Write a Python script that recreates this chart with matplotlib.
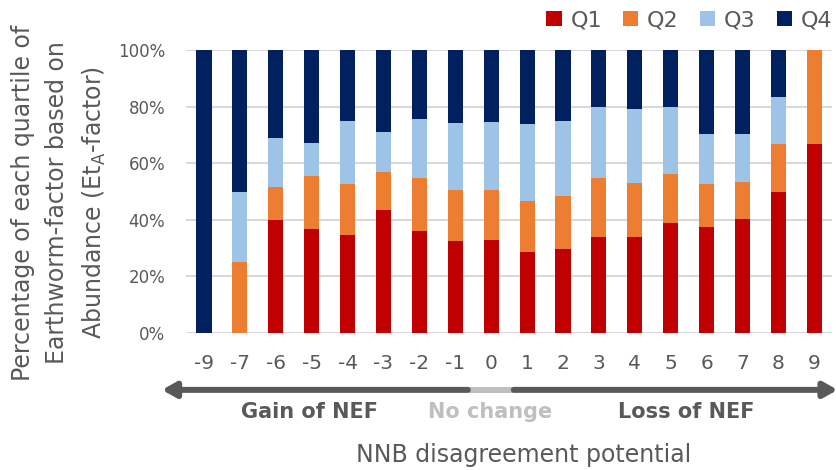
import matplotlib
matplotlib.use('Agg')
import matplotlib.pyplot as plt
import numpy as np

# NNB disagreement potential categories
categories = ['-9', '-7', '-6', '-5', '-4', '-3', '-2', '-1', '0',
              '1', '2', '3', '4', '5', '6', '7', '8', '9']

# share of each quartile (%)
q1 = [0, 0, 40.1, 36.6, 34.8, 43.6, 36.2, 32.4, 32.8,
      28.5, 29.8, 34.1, 34.1, 38.7, 37.3, 40.4, 50.0, 66.7]
q2 = [0, 25.0, 11.5, 18.9, 17.9, 13.4, 18.6, 18.2, 17.8,
      18.2, 18.7, 20.7, 18.8, 17.5, 15.4, 13.0, 16.7, 33.3]
q3 = [0, 25.0, 17.2, 11.8, 22.4, 14.0, 21.0, 23.5, 23.8,
      27.0, 26.6, 25.2, 26.1, 23.8, 17.5, 16.8, 16.7, 0]
q4 = [100, 50.0, 31.2, 32.7, 24.9, 29.0, 24.2, 25.9, 25.6,
      26.3, 24.9, 20.0, 21.0, 20.0, 29.8, 29.8, 16.6, 0]

series = [('Q1', q1, '#C00000'), ('Q2', q2, '#ED7D31'),
          ('Q3', q3, '#9DC3E6'), ('Q4', q4, '#002060')]

grey = '#595959'
light = '#BFBFBF'

fig = plt.figure(figsize=(8.36, 4.70), dpi=100)
ax = fig.add_axes([0.2225, 0.2915, 0.773, 0.602])

x = np.arange(len(categories))
bottom = np.zeros(len(categories))
for name, vals, color in series:
    vals = np.array(vals)
    ax.bar(x, vals, 0.42, bottom=bottom, color=color, label=name, zorder=3)
    bottom += vals

ax.set_xlim(-0.5, len(categories) - 0.5)
ax.set_ylim(0, 100)
ax.set_yticks(np.arange(0, 101, 20))
ax.set_yticklabels(['%d%%' % v for v in range(0, 101, 20)],
                   fontsize=12, color=grey)
ax.set_xticks(x)
ax.set_xticklabels(categories, fontsize=14.5, color=grey)
ax.tick_params(axis='both', length=0)
ax.tick_params(axis='x', pad=15)
ax.tick_params(axis='y', pad=15)
ax.grid(axis='y', color='#D9D9D9', linewidth=1.5, zorder=0)
for s in ax.spines.values():
    s.set_visible(False)

ax.set_ylabel('Percentage of each quartile of\nEarthworm-factor based on\n'
              'Abundance (Et$_{\\mathrm{A}}$-factor)',
              fontsize=17, color=grey, linespacing=1.55)
ax.yaxis.set_label_coords(-0.121, 0.46)

# arrow under the axis
ay = -0.201
tr = ax.get_xaxis_transform()
head = '-|>,head_length=0.8,head_width=0.45'
ax.annotate('', xy=(-1.17, ay), xytext=(7.35, ay), xycoords=tr,
            textcoords=tr, annotation_clip=False,
            arrowprops=dict(arrowstyle=head, color=grey, lw=4.3,
                            shrinkA=0, shrinkB=0))
ax.annotate('', xy=(17.65, ay), xytext=(8.63, ay), xycoords=tr,
            textcoords=tr, annotation_clip=False,
            arrowprops=dict(arrowstyle=head, color=grey, lw=4.3,
                            shrinkA=0, shrinkB=0))
ax.plot([7.35, 8.63], [ay, ay], transform=tr, color=light, lw=4.3,
        clip_on=False, solid_capstyle='butt')

ty = -0.279
ax.text(2.95, ty, 'Gain of NEF', transform=tr, ha='center', va='center',
        fontsize=15, fontweight='bold', color=grey)
ax.text(7.97, ty, 'No change', transform=tr, ha='center', va='center',
        fontsize=15, fontweight='bold', color=light)
ax.text(13.43, ty, 'Loss of NEF', transform=tr, ha='center', va='center',
        fontsize=15, fontweight='bold', color=grey)
ax.text(0.522, -0.43, 'NNB disagreement potential', transform=ax.transAxes,
        ha='center', va='center', fontsize=17, color=grey)

leg = ax.legend(loc='center right', bbox_to_anchor=(1.0, 1.106), ncol=4,
                frameon=False, fontsize=16, handlelength=0.68,
                handleheight=0.68, handletextpad=0.4, columnspacing=0.95,
                borderaxespad=0.0, borderpad=0.0)
for t in leg.get_texts():
    t.set_color(grey)

fig.savefig('out.png', dpi=100)
